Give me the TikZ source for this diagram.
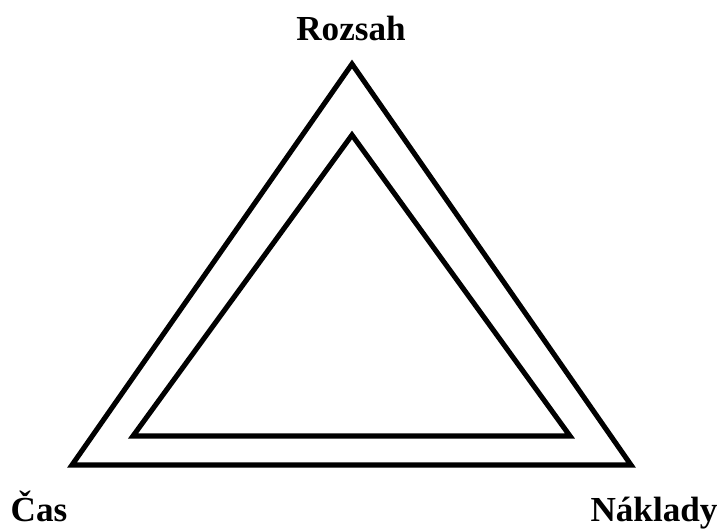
\documentclass[tikz,border=0pt]{standalone}
\usepackage{fontspec}
\setmainfont{Liberation Serif}
\usetikzlibrary{positioning}

\begin{document}
\begin{tikzpicture}[
  x=0.02cm, y=-0.02cm,
  side/.style={line width=2.9pt, line join=miter},
  corner/.style={font=\fontsize{20}{24}\selectfont\bfseries, anchor=base},
]
\useasboundingbox (0,0) rectangle (723,529);

% Outer triangle
\coordinate (otop) at (352,64);
\coordinate (oleft) at (72,465);
\coordinate (oright) at (631,465);

% Inner triangle
\coordinate (itop) at (352,135);
\coordinate (ileft) at (133,436);
\coordinate (iright) at (570,436);

\draw[side] (otop) -- (oleft) -- (oright) -- cycle;
\draw[side] (itop) -- (ileft) -- (iright) -- cycle;

% Labels
\node[corner] (rozsah) at (351,40) {Rozsah};
\node[corner] (cas) at (39,521) {Čas};
\node[corner] (naklady) at (654,521) {Náklady};

\end{tikzpicture}
\end{document}
